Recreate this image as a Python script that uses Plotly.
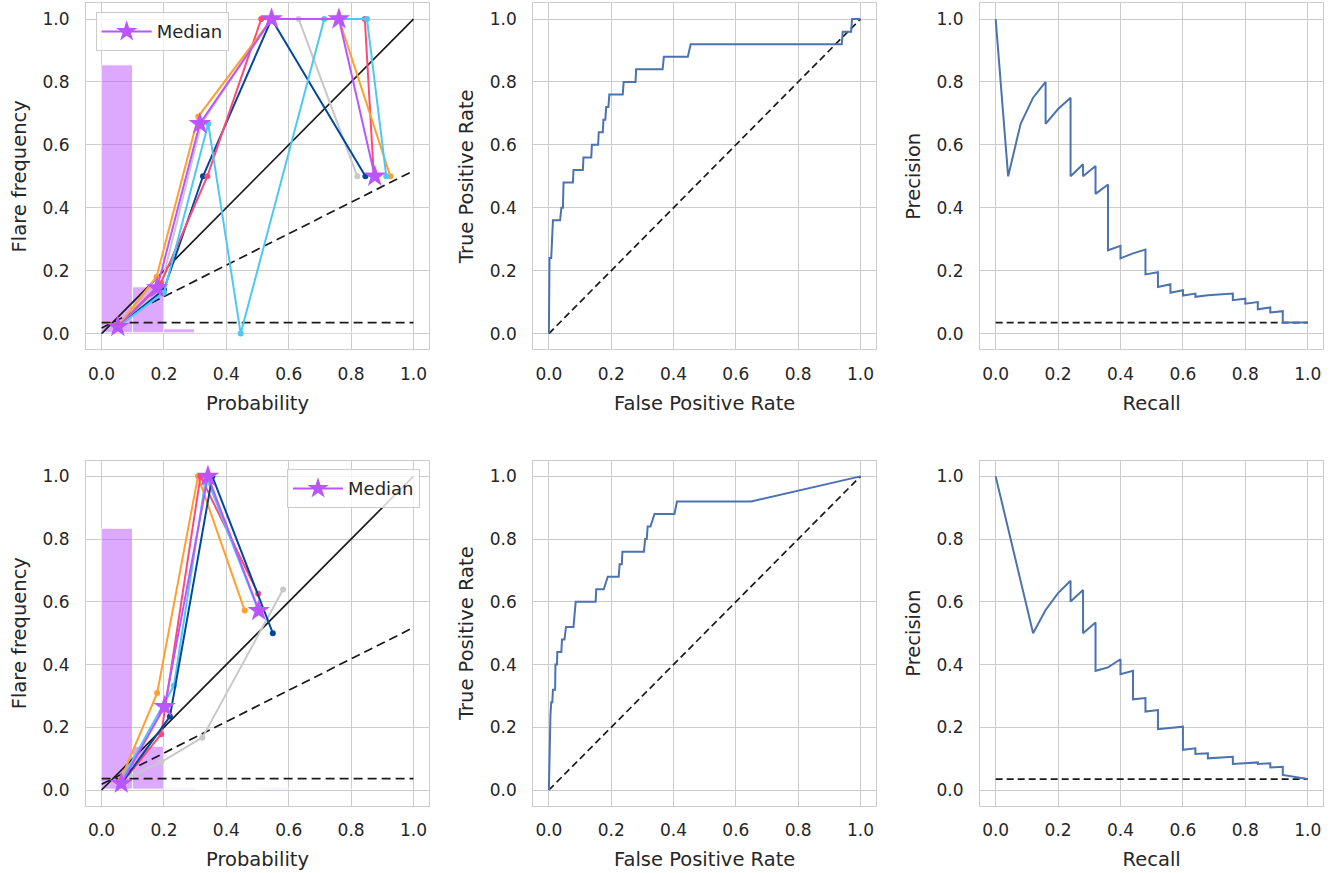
import plotly.graph_objects as go

# ---------------- reliability diagram data ----------------
bin_centers = [0.05, 0.15, 0.25, 0.35, 0.45, 0.55, 0.65, 0.75, 0.85, 0.95]
hist_top = [0.854, 0.147, 0.012, 0.0, 0.0, 0.0, 0.0, 0.0, 0.0, 0.0]
hist_bottom = [0.834, 0.138, 0.004, 0.0, 0.0, 0.004, 0.0, 0.0, 0.0, 0.0]
climatology_top = 0.035
climatology_bottom = 0.036

# calibration curves (mean predicted probability, observed frequency)
rel_top = {
    "grey":      ([0.05, 0.19, 0.32, 0.545, 0.632, 0.82], [0.02, 0.15, 0.667, 1.0, 1.0, 0.5]),
    "darkblue":  ([0.05, 0.20, 0.325, 0.545, 0.846], [0.02, 0.14, 0.5, 1.0, 0.5]),
    "pink":      ([0.05, 0.19, 0.339, 0.512, 0.844, 0.873], [0.02, 0.16, 0.5, 1.0, 1.0, 0.5]),
    "orange":    ([0.05, 0.176, 0.31, 0.545, 0.761, 0.926], [0.02, 0.18, 0.69, 1.0, 1.0, 0.5]),
    "lightblue": ([0.05, 0.20, 0.342, 0.446, 0.714, 0.851, 0.913], [0.02, 0.13, 0.667, 0.0, 1.0, 1.0, 0.5]),
}
median_top_x = [0.052, 0.178, 0.315, 0.545, 0.761, 0.876]
median_top_y = [0.022, 0.145, 0.667, 1.0, 1.0, 0.5]

rel_bottom = {
    "grey":      ([0.063, 0.192, 0.323, 0.582], [0.03, 0.09, 0.167, 0.639]),
    "orange":    ([0.062, 0.178, 0.309, 0.459], [0.035, 0.309, 1.0, 0.572]),
    "pink":      ([0.063, 0.191, 0.317, 0.502], [0.02, 0.178, 1.0, 0.626]),
    "lightblue": ([0.060, 0.232, 0.335, 0.500], [0.025, 0.333, 1.0, 0.58]),
    "darkblue":  ([0.063, 0.219, 0.355, 0.549], [0.02, 0.234, 1.0, 0.5]),
}
median_bottom_x = [0.063, 0.202, 0.341, 0.504]
median_bottom_y = [0.021, 0.266, 1.0, 0.572]

# ---------------- ROC data ----------------
fpr_top = [0, 0, 0.002, 0.0075, 0.0096, 0.013, 0.036, 0.04, 0.045, 0.047, 0.077, 0.079,
           0.109, 0.111, 0.136, 0.138, 0.158, 0.16, 0.173, 0.175, 0.181, 0.184, 0.191,
           0.194, 0.237, 0.24, 0.278, 0.28, 0.365, 0.369, 0.446, 0.455, 0.94, 0.943,
           0.97, 0.973, 1.0]
tpr_top = [0, 0.16, 0.24, 0.24, 0.32, 0.36, 0.36, 0.40, 0.40, 0.48, 0.48, 0.52,
           0.52, 0.56, 0.56, 0.60, 0.60, 0.64, 0.64, 0.68, 0.68, 0.72, 0.72,
           0.76, 0.76, 0.80, 0.80, 0.84, 0.84, 0.88, 0.88, 0.92, 0.92, 0.96,
           0.96, 1.0, 1.0]

fpr_bottom = [0, 0.002, 0.005, 0.0075, 0.011, 0.013, 0.02, 0.021, 0.026, 0.027, 0.04, 0.042,
              0.05, 0.055, 0.079, 0.086, 0.15, 0.152, 0.176, 0.189, 0.224, 0.227, 0.234,
              0.236, 0.305, 0.309, 0.314, 0.317, 0.326, 0.339, 0.403, 0.411, 0.649, 1.0]
tpr_bottom = [0, 0.12, 0.24, 0.28, 0.28, 0.32, 0.32, 0.40, 0.40, 0.44, 0.44, 0.48,
              0.48, 0.52, 0.52, 0.60, 0.60, 0.64, 0.64, 0.68, 0.68, 0.72, 0.72,
              0.76, 0.76, 0.80, 0.80, 0.84, 0.84, 0.88, 0.88, 0.92, 0.92, 1.0]

# ---------------- precision-recall data ----------------
recall_top = [0, 0.04, 0.08, 0.12, 0.16, 0.16, 0.20, 0.24, 0.24, 0.28, 0.28, 0.32, 0.32,
              0.36, 0.36, 0.40, 0.40, 0.44, 0.48, 0.48, 0.52, 0.52, 0.56, 0.56, 0.60, 0.60,
              0.64, 0.64, 0.68, 0.72, 0.76, 0.76, 0.80, 0.80, 0.84, 0.84, 0.88, 0.88,
              0.92, 0.92, 1.0]
precision_top = [1.0, 0.5, 0.667, 0.75, 0.8, 0.667, 0.714, 0.75, 0.5, 0.538, 0.5, 0.533, 0.444,
                 0.474, 0.265, 0.279, 0.239, 0.255, 0.267, 0.188, 0.195, 0.148, 0.157, 0.13,
                 0.138, 0.121, 0.127, 0.117, 0.122, 0.125, 0.127, 0.106, 0.111, 0.095, 0.10,
                 0.077, 0.083, 0.067, 0.071, 0.035, 0.035]

recall_bottom = [0, 0.12, 0.16, 0.20, 0.24, 0.24, 0.28, 0.28, 0.32, 0.32, 0.36, 0.40, 0.40,
                 0.44, 0.44, 0.48, 0.48, 0.52, 0.52, 0.60, 0.60, 0.64, 0.64, 0.68, 0.68,
                 0.72, 0.76, 0.76, 0.84, 0.84, 0.88, 0.88, 0.92, 0.92, 1.0]
precision_bottom = [1.0, 0.5, 0.574, 0.628, 0.667, 0.601, 0.638, 0.5, 0.534, 0.38, 0.391, 0.417,
                    0.369, 0.38, 0.289, 0.293, 0.25, 0.255, 0.194, 0.202, 0.128, 0.133, 0.115,
                    0.117, 0.101, 0.103, 0.106, 0.083, 0.088, 0.083, 0.085, 0.072, 0.074,
                    0.048, 0.035]
pr_baseline = 0.035

# ---------------- styling ----------------
line_colors = {
    "grey": "#c8c8c8",
    "darkblue": "#00489c",
    "pink": "#fd4a7a",
    "orange": "#ff9f2e",
    "lightblue": "#4dc8f5",
}
purple = "#bb55ff"
curve_blue = "#4c72b0"
ink = "#262626"
grid = "#cccccc"
font_family = "DejaVu Sans"

# subplot placement (paper fractions)
col_domains = [[0.0641, 0.3197], [0.3974, 0.6528], [0.7303, 0.9861]]
row_domains = [[0.5999, 0.9962], [0.0771, 0.4723]]

x_titles = ["Probability", "False Positive Rate", "Recall"]
y_titles = ["Flare frequency", "True Positive Rate", "Precision"]

fig = go.Figure()


def axis_ids(row, col):
    n = row * 3 + col + 1
    return ("x" if n == 1 else f"x{n}"), ("y" if n == 1 else f"y{n}")


def add_reliability(row, hist, clim, curves, mx, my, legend_name):
    xa, ya = axis_ids(row, 0)
    fig.add_trace(go.Bar(
        x=bin_centers, y=hist, width=0.1, xaxis=xa, yaxis=ya,
        marker=dict(color=purple, opacity=0.5, line=dict(color="white", width=1)),
        showlegend=False, hoverinfo="skip"))
    # perfect reliability
    fig.add_trace(go.Scatter(
        x=[0, 1], y=[0, 1], mode="lines", xaxis=xa, yaxis=ya,
        line=dict(color="#1a1a1a", width=1.7), showlegend=False))
    # no-skill line
    fig.add_trace(go.Scatter(
        x=[0, 1], y=[clim / 2, (1 + clim) / 2], mode="lines", xaxis=xa, yaxis=ya,
        line=dict(color="#1a1a1a", width=1.7, dash="9px,5px"), showlegend=False))
    # climatology
    fig.add_trace(go.Scatter(
        x=[0, 1], y=[clim, clim], mode="lines", xaxis=xa, yaxis=ya,
        line=dict(color="#1a1a1a", width=1.7, dash="9px,5px"), showlegend=False))
    for name, (cx, cy) in curves.items():
        fig.add_trace(go.Scatter(
            x=cx, y=cy, mode="lines+markers", xaxis=xa, yaxis=ya,
            line=dict(color=line_colors[name], width=2),
            marker=dict(color=line_colors[name], size=6),
            showlegend=False))
    fig.add_trace(go.Scatter(
        x=mx, y=my, mode="lines+markers", name="Median", xaxis=xa, yaxis=ya,
        line=dict(color=purple, width=2),
        marker=dict(color=purple, size=17, symbol="star"),
        legend=legend_name))


def add_roc(row, fpr, tpr):
    xa, ya = axis_ids(row, 1)
    fig.add_trace(go.Scatter(
        x=[0, 1], y=[0, 1], mode="lines", xaxis=xa, yaxis=ya,
        line=dict(color="#1a1a1a", width=1.7, dash="7px,4px"), showlegend=False))
    fig.add_trace(go.Scatter(
        x=fpr, y=tpr, mode="lines", xaxis=xa, yaxis=ya,
        line=dict(color=curve_blue, width=2), showlegend=False))


def add_pr(row, rec, prec, base):
    xa, ya = axis_ids(row, 2)
    fig.add_trace(go.Scatter(
        x=[0, 1], y=[base, base], mode="lines", xaxis=xa, yaxis=ya,
        line=dict(color="#1a1a1a", width=1.7, dash="7px,4px"), showlegend=False))
    fig.add_trace(go.Scatter(
        x=rec, y=prec, mode="lines", xaxis=xa, yaxis=ya,
        line=dict(color=curve_blue, width=2), showlegend=False))


add_reliability(0, hist_top, climatology_top, rel_top, median_top_x, median_top_y, "legend")
add_roc(0, fpr_top, tpr_top)
add_pr(0, recall_top, precision_top, pr_baseline)
add_reliability(1, hist_bottom, climatology_bottom, rel_bottom, median_bottom_x, median_bottom_y, "legend2")
add_roc(1, fpr_bottom, tpr_bottom)
add_pr(1, recall_bottom, precision_bottom, pr_baseline)

tick_vals = [0, 0.2, 0.4, 0.6, 0.8, 1.0]
tick_text = ["0.0", "0.2", "0.4", "0.6", "0.8", "1.0"]

legend_style = dict(bgcolor="rgba(255,255,255,0.8)", bordercolor=grid, borderwidth=1,
                    font=dict(size=18, color=ink), itemwidth=50)

layout = dict(
    width=1342, height=873,
    margin=dict(l=0, r=0, t=0, b=0),
    paper_bgcolor="white", plot_bgcolor="white",
    font=dict(family=font_family, color=ink, size=17),
    bargap=0,
    legend=dict(legend_style, x=0.0713, y=0.986, xanchor="left", yanchor="top"),
    legend2=dict(legend_style, x=0.313, y=0.4625, xanchor="right", yanchor="top"),
)

for row in range(2):
    for col in range(3):
        xa, ya = axis_ids(row, col)
        xkey = "xaxis" + xa[1:]
        ykey = "yaxis" + ya[1:]
        common = dict(
            range=[-0.05, 1.05], tickvals=tick_vals, ticktext=tick_text,
            showgrid=True, gridcolor=grid, gridwidth=1,
            showline=True, mirror=True, linecolor=grid, linewidth=1.3,
            zeroline=False, ticks="", tickfont=dict(size=17, color=ink),
        )
        layout[xkey] = dict(common, domain=col_domains[col], anchor=ya,
                            title=dict(text=x_titles[col], font=dict(size=19.5, color=ink), standoff=13),
                            ticklabelstandoff=9)
        layout[ykey] = dict(common, domain=row_domains[row], anchor=xa,
                            title=dict(text=y_titles[col], font=dict(size=19.5, color=ink), standoff=10),
                            ticklabelstandoff=12)

fig.update_layout(**layout)
fig.write_html("out.html")
